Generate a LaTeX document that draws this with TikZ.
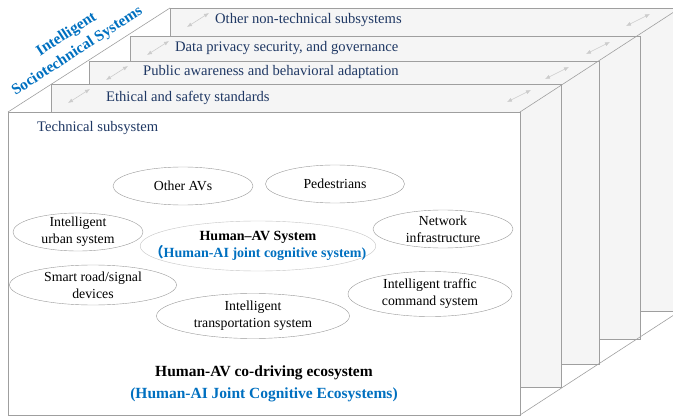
\documentclass[tikz,border=0pt]{standalone}
\usepackage{fontspec}
\setmainfont{Liberation Serif}
\newfontfamily\cjk{Noto Sans CJK SC}
\usetikzlibrary{shapes.geometric, arrows.meta}
\definecolor{navy}{HTML}{1F3864}
\definecolor{aiblue}{HTML}{0070C0}

\tikzset{
	layer/.style={draw=gray!75, fill=gray!8, anchor=north west, inner sep=0, outer sep=0,
		minimum width=510pt, minimum height=303pt},
	strip/.style={anchor=west, text=navy, font=\fontsize{14.6}{17}\selectfont, inner sep=0},
	part/.style={ellipse, draw=gray!80, fill=white, inner sep=0, inner ysep=-2pt, align=center,
		font=\fontsize{13.8}{17}\selectfont},
	both/.style={{Latex[length=5pt,width=4pt]}-{Latex[length=5pt,width=4pt]}, gray!40, line width=0.6pt},
	rim/.style={draw=gray!75, line width=0.6pt}
}

\begin{document}
\begin{tikzpicture}[x=1pt, y=-1pt]
	\useasboundingbox (0,0) rectangle (673,420);
	\clip (0,0) rectangle (673,420);

	\node[layer] (l4) at (170,8) {};
	\node[layer] (l3) at (130,36) {};
	\node[layer] (l2) at (89,61) {};
	\node[layer] (l1) at (51,84) {};
	\node[layer, fill=white, minimum width=512pt] (tech) at (8,112) {};

	\node[strip] (t4) at (215,20) {Other non-technical subsystems};
	\node[strip] (t3) at (175,48) {Data privacy security, and governance};
	\node[strip] (t2) at (143,72) {Public awareness and behavioral adaptation};
	\node[strip] (t1) at (106,98) {Ethical and safety standards};
	\node[strip] (t0) at (37,128) {Technical subsystem};

	\foreach \l in {l1, l2, l3, l4} {
		\draw[both] ([shift={(17,19)}]\l.north west) -- ++(22,-14);
		\draw[both] ([shift={(-54,18)}]\l.north east) -- ++(24,-12);
	}

	\draw[rim]
		(tech.north west) -- (l4.north west)
		(tech.north east) -- (l4.north east)
		(tech.south east) -- (l4.south east);

	\node[rotate=33, align=center, text=aiblue, font=\fontsize{15.5}{20}\selectfont\bfseries]
		(sts) at (72,43) {Intelligent\\Sociotechnical Systems};

	\node[part, minimum width=140pt, minimum height=38pt] (avs) at (183,186) {Other AVs};
	\node[part, minimum width=139pt, minimum height=38pt] (ped) at (335,184) {Pedestrians};
	\node[part, minimum width=130pt, minimum height=38pt] (urban) at (78,232) {Intelligent\\urban system};
	\node[part, minimum width=140pt, minimum height=38pt] (net) at (443,229) {Network\\infrastructure};
	\node[part, draw=gray!45, inner xsep=-25pt, minimum width=228pt, minimum height=50pt,
		font=\fontsize{14}{17}\selectfont\bfseries] (hav) at (258,246)
		{Human--AV System\\\textcolor{aiblue}{{\cjk （}Human-AI joint cognitive system)}};
	\node[part, minimum width=167pt, minimum height=40pt] (road) at (93,285) {Smart road/signal\\devices};
	\node[part, minimum width=164pt, minimum height=45pt] (tcs) at (430,294) {Intelligent traffic\\command system};
	\node[part, minimum width=193pt, minimum height=45pt] (its) at (253,316) {Intelligent\\transportation system};

	\node[align=center, font=\fontsize{15.5}{22}\selectfont\bfseries] (eco) at (264,384)
		{Human-AV co-driving ecosystem\\\textcolor{aiblue}{(Human-AI Joint Cognitive Ecosystems)}};
\end{tikzpicture}
\end{document}
